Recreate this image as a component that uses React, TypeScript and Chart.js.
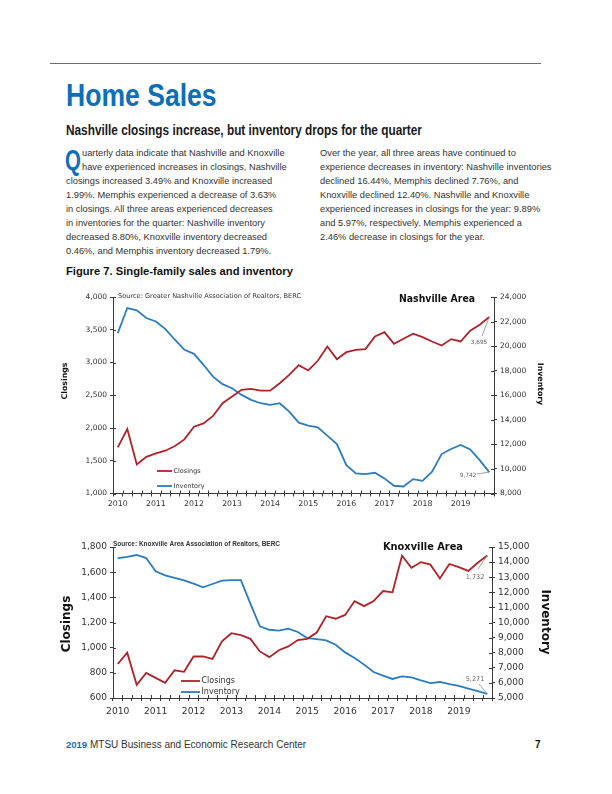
import React, { useEffect, useRef } from "react";
import { Chart, registerables } from "chart.js";
Chart.register(...registerables);

// ---------- data ----------
const years = ["2010", "2011", "2012", "2013", "2014", "2015", "2016", "2017", "2018", "2019"];
const quarterNames = ["Q1", "Q2", "Q3", "Q4"];
const quarters = years.flatMap((y) => quarterNames.map((q) => `${y} ${q}`));

const nashvilleClosings = [
  1704, 1985, 1444, 1560, 1612, 1653, 1725, 1826, 2020, 2071,
  2184, 2378, 2480, 2582, 2597, 2571, 2571, 2683, 2811, 2959,
  2878, 3026, 3245, 3051, 3158, 3194, 3204, 3398, 3464, 3286,
  3362, 3439, 3388, 3321, 3260, 3357, 3321, 3485, 3577, 3695,
];
const nashvilleInventory = [
  21060, 23100, 22910, 22290, 22010, 21390, 20520, 19700, 19370, 18480,
  17520, 16900, 16570, 16030, 15620, 15350, 15210, 15350, 14670, 13770,
  13520, 13390, 12710, 12030, 10310, 9630, 9580, 9690, 9230, 8630,
  8570, 9170, 9030, 9770, 11210, 11620, 11950, 11590, 10720, 9742,
];
const knoxvilleClosings = [
  870, 960, 705, 800, 760, 720, 820, 808, 930, 930,
  910, 1050, 1115, 1100, 1070, 970, 925, 980, 1010, 1060,
  1070, 1120, 1250, 1230, 1260, 1370, 1330, 1370, 1450, 1440,
  1730, 1635, 1680, 1660, 1550, 1665, 1640, 1610, 1675, 1732,
];
const knoxvilleInventory = [
  14270, 14340, 14470, 14270, 13390, 13120, 12950, 12790, 12570, 12330,
  12550, 12770, 12810, 12810, 11250, 9750, 9520, 9460, 9590, 9370,
  8970, 8900, 8820, 8530, 8020, 7650, 7210, 6720, 6480, 6260,
  6430, 6370, 6170, 5990, 6060, 5920, 5800, 5620, 5450, 5271,
];

const nashvilleClosingsAxis = [1000, 4000, 500];
const nashvilleInventoryAxis = [8000, 24000, 2000];
const knoxvilleClosingsAxis = [600, 1800, 200];
const knoxvilleInventoryAxis = [5000, 15000, 1000];

const seriesNames = ["Closings", "Inventory"];
const leftColumn = [
  "uarterly data indicate that Nashville and Knoxville",
  "have experienced increases in closings, Nashville",
  "closings increased 3.49% and Knoxville increased",
  "1.99%. Memphis experienced a decrease of 3.63%",
  "in closings. All three areas experienced decreases",
  "in inventories for the quarter: Nashville inventory",
  "decreased 8.80%, Knoxville inventory decreased",
  "0.46%, and Memphis inventory decreased 1.79%.",
];
const rightColumn = [
  "Over the year, all three areas have continued to",
  "experience decreases in inventory: Nashville inventories",
  "declined 16.44%, Memphis declined 7.76%, and",
  "Knoxville declined 12.40%. Nashville and Knoxville",
  "experienced increases in closings for the year: 9.89%",
  "and 5.97%, respectively. Memphis experienced a",
  "2.46% decrease in closings for the year.",
];

// ---------- styles ----------
const RED = "#b0222a";
const BLUE = "#2b7cc0";
const AXIS = "#3a3a3a";
const TEXT = "#333";
const TITLE_BLUE = "#0d6fb8";
const SANS = '"Liberation Sans", Arial, sans-serif';
const CHART_FONT = "DejaVu Sans";

const fmt = (v: number | string) => Number(v).toLocaleString("en-US");

type TextSpec = { text: string; x: number; y: number; font: string; maxWidth?: number; color?: string; align?: CanvasTextAlign; rot?: number };
type Ann = { ds: number; lx: number; ly: number; tx: number; ty: number; font: string };
type Spec = {
  left: number; top: number; w: number; h: number;
  closings: number[]; inventory: number[];
  yAxis: number[]; y1Axis: number[];
  leftW: number; rightW: number; padTop: number; xH: number;
  tickFont: number; xTickFont: number; xPad: number;
  texts: TextSpec[];
  legend: { x1: number; x2: number; ys: number[]; font: string };
  ann: Ann[];
};

function drawText(ctx: CanvasRenderingContext2D, t: TextSpec, ox: number, oy: number) {
  ctx.save();
  ctx.font = t.font;
  ctx.fillStyle = t.color || "#222";
  ctx.textBaseline = "middle";
  ctx.textAlign = t.align || "left";
  ctx.translate(t.x - ox, t.y - oy);
  if (t.rot) ctx.rotate(t.rot);
  if (t.maxWidth) ctx.fillText(t.text, 0, 0, t.maxWidth);
  else ctx.fillText(t.text, 0, 0);
  ctx.restore();
}

const overlayPlugin = {
  id: "overlay",
  afterDraw(chart: any, _args: any, opts: any) {
    const spec: Spec = opts.spec;
    if (!spec) return;
    const ctx: CanvasRenderingContext2D = chart.ctx;
    const ox = spec.left, oy = spec.top;
    ctx.save();
    // inward halves of the cross tick marks
    ctx.strokeStyle = AXIS;
    ctx.lineWidth = 1;
    ctx.beginPath();
    const xs = chart.scales.x;
    const p0 = xs.getPixelForValue(0);
    const p1 = xs.getPixelForValue(1);
    const step = p1 - p0;
    for (let i = 0; i <= xs.ticks.length; i++) {
      const x = Math.round(p0 - step / 2 + i * step) + 0.5;
      ctx.moveTo(x, xs.top);
      ctx.lineTo(x, xs.top - 3);
    }
    const ys = chart.scales.y;
    ys.ticks.forEach((t: any) => {
      const y = Math.round(ys.getPixelForValue(t.value)) + 0.5;
      ctx.moveTo(ys.right, y);
      ctx.lineTo(ys.right + 3, y);
    });
    const y1 = chart.scales.y1;
    y1.ticks.forEach((t: any) => {
      const y = Math.round(y1.getPixelForValue(t.value)) + 0.5;
      ctx.moveTo(y1.left, y);
      ctx.lineTo(y1.left - 3, y);
    });
    ctx.stroke();

    // legend
    const lg = spec.legend;
    chart.data.datasets.forEach((ds: any, i: number) => {
      ctx.strokeStyle = ds.borderColor;
      ctx.lineWidth = 1.8;
      ctx.beginPath();
      ctx.moveTo(lg.x1 - ox, lg.ys[i] - oy);
      ctx.lineTo(lg.x2 - ox, lg.ys[i] - oy);
      ctx.stroke();
      drawText(ctx, { text: ds.label, x: lg.x2 + 1.5, y: lg.ys[i], font: lg.font, color: TEXT }, ox, oy);
    });

    // end-value call-outs
    spec.ann.forEach((a) => {
      const meta = chart.getDatasetMeta(a.ds);
      const last = meta.data.length - 1;
      const pt = meta.data[last];
      const val = chart.data.datasets[a.ds].data[last];
      ctx.strokeStyle = "#8a8a8a";
      ctx.lineWidth = 0.8;
      ctx.beginPath();
      ctx.moveTo(pt.x, pt.y);
      ctx.lineTo(a.lx - ox, a.ly - oy);
      ctx.stroke();
      drawText(ctx, { text: fmt(val as number), x: a.tx, y: a.ty, font: a.font, color: "#666", align: "center" }, ox, oy);
    });

    spec.texts.forEach((t) => drawText(ctx, t, ox, oy));
    ctx.restore();
  },
};

function buildConfig(spec: Spec): any {
  const tickFont = { family: CHART_FONT, size: spec.tickFont };
  const common = {
    grid: { drawOnChartArea: false, tickLength: 3, color: AXIS, lineWidth: 1 },
    border: { color: AXIS, width: 1 },
  };
  return {
    type: "line",
    data: {
      labels: quarters,
      datasets: [
        { label: seriesNames[0], data: spec.closings, borderColor: RED, backgroundColor: RED, borderWidth: 1.8, pointRadius: 0, yAxisID: "y", tension: 0 },
        { label: seriesNames[1], data: spec.inventory, borderColor: BLUE, backgroundColor: BLUE, borderWidth: 1.8, pointRadius: 0, yAxisID: "y1", tension: 0 },
      ],
    },
    options: {
      animation: false,
      responsive: false,
      maintainAspectRatio: false,
      devicePixelRatio: 1,
      layout: { padding: { top: spec.padTop, left: 0, right: 0, bottom: 0 } },
      plugins: { legend: { display: false }, tooltip: { enabled: false }, overlay: { spec } },
      scales: {
        x: {
          type: "category",
          offset: true,
          grid: { ...common.grid, offset: true },
          border: common.border,
          ticks: {
            autoSkip: false,
            maxRotation: 0,
            minRotation: 0,
            padding: spec.xPad,
            color: TEXT,
            font: { family: CHART_FONT, size: spec.xTickFont },
            callback: (_v: any, i: number) => (i % 4 === 0 ? years[i / 4] : ""),
          },
          afterFit: (s: any) => { s.height = spec.xH; },
        },
        y: {
          position: "left",
          min: spec.yAxis[0],
          max: spec.yAxis[1],
          ...common,
          ticks: { stepSize: spec.yAxis[2], color: TEXT, font: tickFont, padding: 3, callback: (v: any) => fmt(v) },
          afterFit: (s: any) => { s.width = spec.leftW; },
        },
        y1: {
          position: "right",
          min: spec.y1Axis[0],
          max: spec.y1Axis[1],
          ...common,
          ticks: { stepSize: spec.y1Axis[2], color: TEXT, font: tickFont, padding: 3, callback: (v: any) => fmt(v) },
          afterFit: (s: any) => { s.width = spec.rightW; },
        },
      },
    },
    plugins: [overlayPlugin],
  };
}

function DualChart({ spec }: { spec: Spec }) {
  const ref = useRef<HTMLCanvasElement>(null);
  useEffect(() => {
    const chart = new Chart(ref.current as HTMLCanvasElement, buildConfig(spec));
    return () => chart.destroy();
  }, []);
  return (
    <canvas
      ref={ref}
      width={spec.w}
      height={spec.h}
      style={{ position: "absolute", left: spec.left, top: spec.top, width: spec.w, height: spec.h }}
    />
  );
}

const nashvilleSpec: Spec = {
  left: 50, top: 285, w: 510, h: 225,
  closings: nashvilleClosings, inventory: nashvilleInventory,
  yAxis: nashvilleClosingsAxis, y1Axis: nashvilleInventoryAxis,
  leftW: 63, rightW: 66, padTop: 12, xH: 16.5,
  tickFont: 7.5, xTickFont: 7.8, xPad: 3,
  texts: [
    { text: "Source: Greater Nashville Association of Realtors, BERC", x: 118, y: 296, font: `6.6px ${CHART_FONT}`, maxWidth: 187, color: "#333" },
    { text: "Nashville Area", x: 399, y: 299, font: `bold 9.6px ${CHART_FONT}`, maxWidth: 76, color: "#111" },
    { text: "Closings", x: 65, y: 381, font: `bold 7.8px ${CHART_FONT}`, align: "center", rot: -Math.PI / 2, color: "#111" },
    { text: "Inventory", x: 540, y: 384, font: `bold 7.8px ${CHART_FONT}`, align: "center", rot: Math.PI / 2, color: "#111" },
  ],
  legend: { x1: 157, x2: 172, ys: [471, 486], font: `6.5px ${CHART_FONT}` },
  ann: [
    { ds: 0, lx: 482, ly: 336, tx: 479, ty: 342, font: `5.8px ${CHART_FONT}` },
    { ds: 1, lx: 477, ly: 474, tx: 468, ty: 475, font: `5.8px ${CHART_FONT}` },
  ],
};

const knoxvilleSpec: Spec = {
  left: 50, top: 535, w: 510, h: 195,
  closings: knoxvilleClosings, inventory: knoxvilleInventory,
  yAxis: knoxvilleClosingsAxis, y1Axis: knoxvilleInventoryAxis,
  leftW: 63, rightW: 68, padTop: 12, xH: 32,
  tickFont: 9, xTickFont: 9.2, xPad: 5,
  texts: [
    { text: "Source: Knoxville Area Association of Realtors, BERC", x: 113, y: 544, font: `bold 7px "Liberation Sans"`, maxWidth: 167, color: "#333" },
    { text: "Knoxville Area", x: 383, y: 547, font: `bold 10.5px ${CHART_FONT}`, maxWidth: 80, color: "#111" },
    { text: "Closings", x: 67, y: 624, font: `bold 12px ${CHART_FONT}`, align: "center", rot: -Math.PI / 2, color: "#111" },
    { text: "Inventory", x: 545, y: 622, font: `bold 12px ${CHART_FONT}`, align: "center", rot: Math.PI / 2, color: "#111" },
  ],
  legend: { x1: 181, x2: 200, ys: [681, 692], font: `8px ${CHART_FONT}` },
  ann: [
    { ds: 0, lx: 478, ly: 569, tx: 475, ty: 577, font: `6.5px ${CHART_FONT}` },
    { ds: 1, lx: 479, ly: 684, tx: 475, ty: 679, font: `6.5px ${CHART_FONT}` },
  ],
};

const abs = (left: number, top: number, extra: React.CSSProperties): React.CSSProperties => ({
  position: "absolute", left, top, whiteSpace: "nowrap", margin: 0, ...extra,
});
const squeeze = (sx: number): React.CSSProperties => ({ transform: `scaleX(${sx})`, transformOrigin: "left center" });

export default function App() {
  const body: React.CSSProperties = { fontFamily: SANS, fontSize: "9.3px", lineHeight: "14px", color: "#333" };
  return (
    <div style={{ position: "absolute", left: 0, top: 0, width: 612, height: 794, background: "#fff", overflow: "hidden" }}>
      <div style={{ position: "absolute", left: 50, top: 62.5, width: 491, height: 1.5, background: "#6b6b6b" }} />
      <div style={abs(66, 79, { fontFamily: SANS, fontWeight: 700, fontSize: "32px", lineHeight: "32px", color: TITLE_BLUE, ...squeeze(0.83) })}>Home Sales</div>
      <div style={abs(66, 123, { fontFamily: SANS, fontWeight: 700, fontSize: "14.5px", lineHeight: "14.5px", color: "#1a1a1a", ...squeeze(0.815) })}>
        Nashville closings increase, but inventory drops for the quarter
      </div>
      <div style={abs(65, 145.5, { fontFamily: SANS, fontWeight: 700, fontSize: "29px", lineHeight: "29px", color: TITLE_BLUE, ...squeeze(0.7) })}>Q</div>
      {leftColumn.map((line, i) => (
        <div key={"l" + i} style={abs(i < 2 ? 82 : 66, 145.5 + 14 * i, body)}>{line}</div>
      ))}
      {rightColumn.map((line, i) => (
        <div key={"r" + i} style={abs(320, 145.5 + 14 * i, body)}>{line}</div>
      ))}
      <div style={abs(66, 265.5, { fontFamily: SANS, fontWeight: 700, fontSize: "11.2px", lineHeight: "11px", color: "#111" })}>
        Figure 7. Single-family sales and inventory
      </div>
      <DualChart spec={nashvilleSpec} />
      <DualChart spec={knoxvilleSpec} />
      <div style={abs(66, 740, { fontFamily: SANS, fontWeight: 700, fontSize: "9.5px", lineHeight: "10px", color: TITLE_BLUE })}>2019</div>
      <div style={abs(90, 740, { fontFamily: SANS, fontSize: "10px", lineHeight: "10px", color: "#333" })}>MTSU Business and Economic Research Center</div>
      <div style={abs(535, 740, { fontFamily: SANS, fontWeight: 700, fontSize: "10px", lineHeight: "10px", color: "#111" })}>7</div>
    </div>
  );
}
